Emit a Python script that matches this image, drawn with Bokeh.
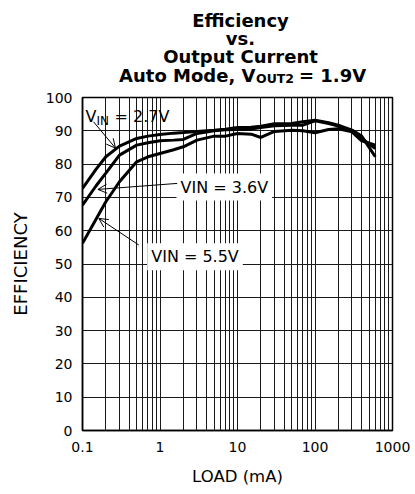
from bokeh.plotting import figure
from bokeh.layouts import column
from bokeh.models import (Range1d, FixedTicker, CustomJSTickFormatter, Label, Arrow, OpenHead)
from bokeh.embed import file_html
from bokeh.resources import INLINE

# ---- data ----
load_ma = [0.1, 0.15, 0.2, 0.3, 0.5, 0.7, 1, 1.5, 2, 3, 5, 7, 10, 15, 20, 30, 50, 70, 100, 150, 200, 300, 400, 600]
eff_vin_27 = [72.7, 78.5, 82.2, 85.4, 87.7, 88.4, 88.9, 89.3, 89.5, 89.8, 90.2, 90.5, 91.0, 91.1, 91.4, 92.1, 92.2, 92.7, 93.2, 92.4, 91.7, 90.2, 88.4, 82.2]
eff_vin_36 = [67.7, 73.5, 77.3, 82.7, 85.7, 86.4, 87.0, 87.2, 87.4, 89.2, 90.0, 90.3, 90.4, 90.5, 91.0, 91.5, 91.7, 91.7, 93.0, 92.2, 91.4, 90.0, 87.7, 84.7]
eff_vin_55 = [56.2, 63.5, 68.7, 74.7, 80.7, 82.2, 83.2, 84.3, 85.2, 87.2, 88.4, 88.4, 89.2, 89.0, 88.0, 89.8, 90.2, 90.0, 89.4, 90.4, 90.6, 89.7, 87.0, 85.7]

x_tick_values = [0.1, 1, 10, 100, 1000]
x_tick_labels = ["0.1", "1", "10", "100", "1000"]
y_tick_values = [0, 10, 20, 30, 40, 50, 60, 70, 80, 90, 100]
title_lines = ["Efficiency", "vs.", "Output Current"]
x_label = "LOAD (mA)"
y_label = "EFFICIENCY"

FONT = "DejaVu Sans"
W = 415
TITLE_H = 90
MAIN_H = 404
FRAME_L = 82
FRAME_R = 392

# ---------------- title strip ----------------
t = figure(width=W, height=TITLE_H, x_range=Range1d(FRAME_L, FRAME_R), y_range=Range1d(0, TITLE_H),
           x_axis_location=None, y_axis_location=None,
           output_backend="svg", toolbar_location=None,
           min_border_left=FRAME_L, min_border_right=W - FRAME_R,
           min_border_top=0, min_border_bottom=0)
t.outline_line_color = None
t.background_fill_color = "white"
t.border_fill_color = "white"
for g in t.grid:
    g.grid_line_color = None

def tlab(x, y, text, size, align="left"):
    t.add_layout(Label(x=x, y=y, text=text, text_align=align, text_baseline="alphabetic",
                       text_font=FONT, text_font_style="bold", text_font_size=size,
                       text_color="black"))

for line, ty in zip(title_lines, [70.5, 52.2, 33.8]):
    tlab(240, ty, line, "18px", align="center")
tlab(255, 15.3, "Auto Mode, V", "18px", align="right")
tlab(255.5, 11.8, "OUT2", "12.5px")
tlab(298.5, 15.3, "= 1.9V", "18px")

# ---------------- main chart ----------------
p = figure(width=W, height=MAIN_H, x_axis_type="log",
           x_range=Range1d(0.1, 1000), y_range=Range1d(0, 100),
           output_backend="svg", toolbar_location=None,
           min_border_left=FRAME_L, min_border_right=W - FRAME_R, min_border_top=7,
           min_border_bottom=64)
p.background_fill_color = "white"
p.border_fill_color = "white"
p.outline_line_color = "black"
p.outline_line_width = 1.5

minor = []
for d in [0.1, 1, 10, 100]:
    for k in range(2, 10):
        minor.append(d * k)

p.xaxis.ticker = FixedTicker(ticks=x_tick_values, minor_ticks=minor)
p.xaxis.formatter = CustomJSTickFormatter(args=dict(v=x_tick_values, l=x_tick_labels), code="""
const i = v.findIndex(t => Math.abs(Math.log10(t) - Math.log10(tick)) < 1e-6);
return i >= 0 ? l[i] : '';
""")
p.yaxis.ticker = FixedTicker(ticks=y_tick_values)

for ax in (p.xaxis[0], p.yaxis[0]):
    ax.major_tick_out = 0
    ax.major_tick_in = 0
    ax.minor_tick_out = 0
    ax.minor_tick_in = 0
    ax.axis_line_color = "black"
    ax.axis_line_width = 1.5
    ax.major_label_text_font = FONT
    ax.major_label_text_font_size = "14px"
    ax.major_label_text_color = "black"
    ax.axis_label_text_font = FONT
    ax.axis_label_text_font_style = "normal"
    ax.axis_label_text_color = "black"

p.xaxis.major_label_standoff = 11
p.yaxis.major_label_standoff = 10
p.xaxis.axis_label = x_label
p.xaxis.axis_label_text_font_size = "16.5px"
p.xaxis.axis_label_standoff = 12
p.yaxis.axis_label = y_label
p.yaxis.axis_label_text_font_size = "18px"
p.yaxis.axis_label_standoff = 12

p.xgrid.grid_line_color = "#1a1a1a"
p.xgrid.grid_line_width = 1
p.xgrid.minor_grid_line_color = "#1a1a1a"
p.xgrid.minor_grid_line_width = 1
p.ygrid.grid_line_color = "#1a1a1a"
p.ygrid.grid_line_width = 1

# curves
for ys in (eff_vin_27, eff_vin_36, eff_vin_55):
    p.line(load_ma, ys, line_color="black", line_width=3)

# annotation labels
def ann(x, y, text, size="16px", x_off=0, bg=False, alpha=1.0):
    lab = Label(x=x, y=y, x_offset=x_off, text=text, text_align="left", text_baseline="alphabetic",
                text_font=FONT, text_font_size=size, text_color="black", text_alpha=alpha)
    if bg:
        lab.background_fill_color = "white"
        lab.padding = 4
    p.add_layout(lab)

ann(0.1093, 94.2, "VIN = 2.7V", bg=True, alpha=0.0)
ann(0.1093, 94.2, "V")
ann(0.1093, 92.9, "IN", size="12px", x_off=11)
ann(0.1093, 94.2, "= 2.7V", x_off=29)
ann(1.633, 73.1, "VIN = 3.6V", bg=True)
ann(0.684, 52.2, "VIN = 5.5V", bg=True)

# arrows
for xs, ys, xe, ye in [(0.1387, 92.7, 0.2666, 84.8),
                       (1.667, 74.2, 0.158, 72.4),
                       (0.533, 55.7, 0.1624, 63.7)]:
    p.add_layout(Arrow(end=OpenHead(size=9, line_width=1, line_color="black"),
                       x_start=xs, y_start=ys, x_end=xe, y_end=ye,
                       line_width=1, line_color="black"))

layout = column(t, p, spacing=0)
open("out.html", "w").write(file_html(layout, INLINE))
